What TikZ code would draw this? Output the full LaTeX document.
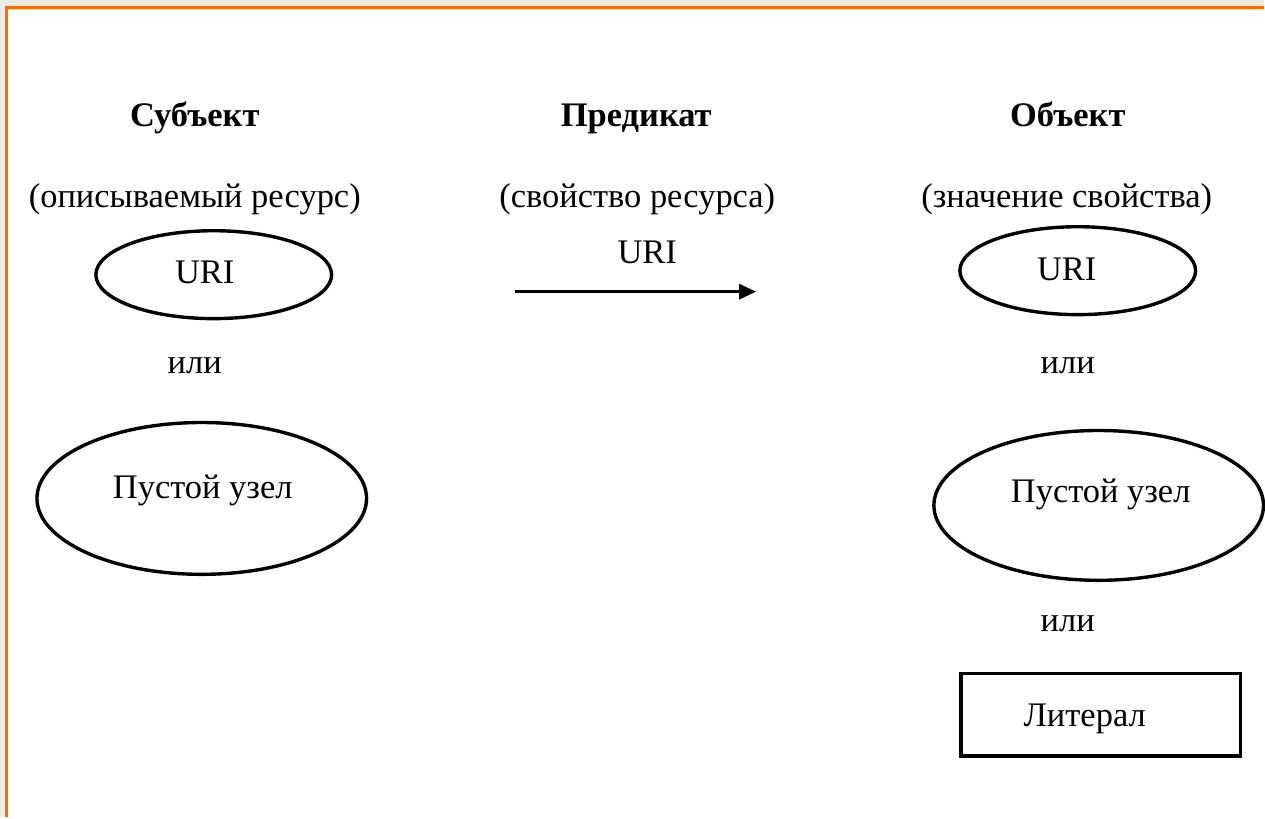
\documentclass[tikz,border=0pt]{standalone}
\usepackage{fontspec}
\setmainfont{Liberation Serif}
\usetikzlibrary{shapes.geometric,arrows.meta}
\definecolor{pagebg}{HTML}{EEEBE0}
\definecolor{frameorange}{HTML}{FF6A00}
\begin{document}
\begin{tikzpicture}[x=1pt,y=-1pt,
  lbl/.style={inner sep=0pt,anchor=base,font=\fontsize{34.5}{40}\selectfont},
  head/.style={lbl,font=\fontsize{34.5}{40}\selectfont\bfseries},
  oval/.style={draw,line width=3.4pt,ellipse,inner sep=0pt},
  litbox/.style={draw,line width=3.4pt,inner sep=0pt}]
  % page and frame
  \fill[pagebg] (0,0) rectangle (1265,818);
  \fill[white] (7,8) rectangle (1265,818);
  \draw[frameorange,line width=3pt] (7,818) -- (7,8) -- (1265,8);
  \useasboundingbox (0,0) rectangle (1265,818);

  % column headings
  \node[head] (hs) at (195,127) {Субъект};
  \node[head] (hp) at (637,127) {Предикат};
  \node[head] (ho) at (1069,127) {Объект};
  \node[lbl] (ds) at (195,208) {(описываемый ресурс)};
  \node[lbl] (dp) at (638,208) {(свойство ресурса)};
  \node[lbl] (do) at (1068,208) {(значение свойства)};

  % subject
  \node[oval,minimum width=236pt,minimum height=88pt] (su) at (214,275) {};
  \node[lbl] at (205,284) {URI};
  \node[lbl] (sor) at (195,374) {или};
  \node[oval,minimum width=330pt,minimum height=152pt] (sb) at (202,499) {};
  \node[lbl] at (203,499) {Пустой узел};

  % predicate
  \node[lbl] (pu) at (648,264) {URI};
  \coordinate (pa) at (516,292);
  \coordinate (pb) at (757,292);
  \draw[line width=3pt,-{Triangle[length=17pt,width=15pt]}] (pa) -- (pb);

  % object
  \node[oval,minimum width=236pt,minimum height=88pt] (ou) at (1079,271) {};
  \node[lbl] at (1068,281) {URI};
  \node[lbl] (oor1) at (1069,374) {или};
  \node[oval,minimum width=330pt,minimum height=150pt] (ob) at (1100,506) {};
  \node[lbl] at (1102,503) {Пустой узел};
  \node[lbl] (oor2) at (1069,632) {или};
  \node[litbox,minimum width=280pt,minimum height=83pt] (ol) at (1102,715.5) {};
  \node[lbl] at (1086,727) {Литерал};
\end{tikzpicture}
\end{document}
